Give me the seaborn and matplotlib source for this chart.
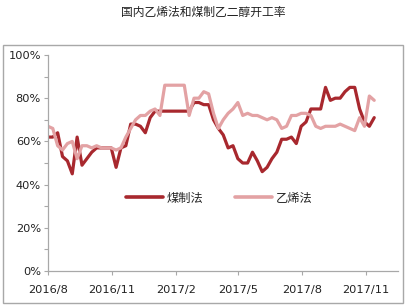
import numpy as np
import pandas as pd
import matplotlib
matplotlib.use("Agg")
import matplotlib.pyplot as plt
import matplotlib.dates as mdates
from matplotlib.patches import Rectangle
from matplotlib.ticker import MultipleLocator, FuncFormatter
import seaborn as sns

# ---- data (weekly) ----
start_date = "2016-08-01"
coal = [62, 62, 64, 53, 51, 45, 62, 49, 52, 55, 57, 57, 57, 57, 48, 57, 58, 68,
        68, 67, 64, 71, 74, 74, 74, 74, 74, 74, 74, 74, 78, 78, 77, 77, 70, 66,
        63, 57, 58, 52, 50, 50, 55, 51, 46, 48, 52, 55, 61, 61, 62, 59, 67, 69,
        75, 75, 75, 85, 79, 80, 80, 83, 85, 85, 75, 69, 67, 71]
ethylene = [67, 66, 58, 56, 59, 60, 52, 58, 58, 57, 58, 57, 57, 57, 56, 57, 62, 66,
            70, 72, 72, 74, 75, 72, 86, 86, 86, 86, 86, 72, 80, 80, 83, 82, 73, 66,
            70, 73, 75, 78, 72, 73, 72, 72, 71, 70, 71, 70, 66, 67, 72, 72, 73, 73,
            72, 67, 66, 67, 67, 67, 68, 67, 66, 65, 71, 67, 81, 79]
series_names = ["煤制法", "乙烯法"]
tick_dates = ["2016-08-01", "2016-11-01", "2017-02-01", "2017-05-01", "2017-08-01", "2017-11-01"]
tick_labels = ["2016/8", "2016/11", "2017/2", "2017/5", "2017/8", "2017/11"]
title = "国内乙烯法和煤制乙二醇开工率"

dates = pd.date_range(start_date, periods=len(coal), freq="7D")
df = pd.concat([
    pd.DataFrame({"date": dates, "value": coal, "series": series_names[0]}),
    pd.DataFrame({"date": dates, "value": ethylene, "series": series_names[1]}),
])

sns.set_style("ticks")
plt.rcParams["font.family"] = ["Noto Sans CJK SC", "DejaVu Sans"]

fig = plt.figure(figsize=(4.06, 3.07), dpi=100)
fig.patch.set_facecolor("white")
# outer frame
fig.patches.append(Rectangle((0.0074, 0.013), 0.985, 0.84, transform=fig.transFigure,
                             fill=False, edgecolor="#A8A8A8", linewidth=1.0))
fig.text(0.5, 0.958, title, ha="center", va="center", fontsize=8.5, color="#222222")

ax = fig.add_axes([0.118, 0.117, 0.862, 0.704])
palette = {series_names[0]: "#A8282E", series_names[1]: "#E3A2A4"}
sns.lineplot(data=df, x="date", y="value", hue="series", palette=palette,
             linewidth=2.3, ax=ax, legend=True)

ax.set_ylim(0, 100)
ax.set_xlim(pd.Timestamp(start_date), pd.Timestamp("2017-12-17"))
ax.yaxis.set_major_locator(MultipleLocator(20))
ax.yaxis.set_minor_locator(MultipleLocator(10))
ax.yaxis.set_major_formatter(FuncFormatter(lambda v, p: f"{v:.0f}%"))
ax.set_xticks([pd.Timestamp(d) for d in tick_dates])
ax.set_xticklabels(tick_labels)
ax.set_xlabel("")
ax.set_ylabel("")
for s in ["top", "right"]:
    ax.spines[s].set_visible(False)
for s in ["left", "bottom"]:
    ax.spines[s].set_color("#A8A8A8")
    ax.spines[s].set_linewidth(0.9)
ax.tick_params(axis="both", which="both", color="#A8A8A8", length=3, width=0.8,
               labelsize=8.2, labelcolor="#222222", pad=2)
ax.tick_params(axis="x", pad=7)
for lab in ax.get_xticklabels() + ax.get_yticklabels():
    lab.set_family(["DejaVu Sans"])

leg = ax.legend(loc="center", bbox_to_anchor=(0.49, 0.338), ncol=2, frameon=False,
                fontsize=8.8, handlelength=3.0, columnspacing=2.6, handletextpad=0.3)
for line in leg.get_lines():
    line.set_linewidth(2.6)

fig.savefig("out.png", dpi=100)
